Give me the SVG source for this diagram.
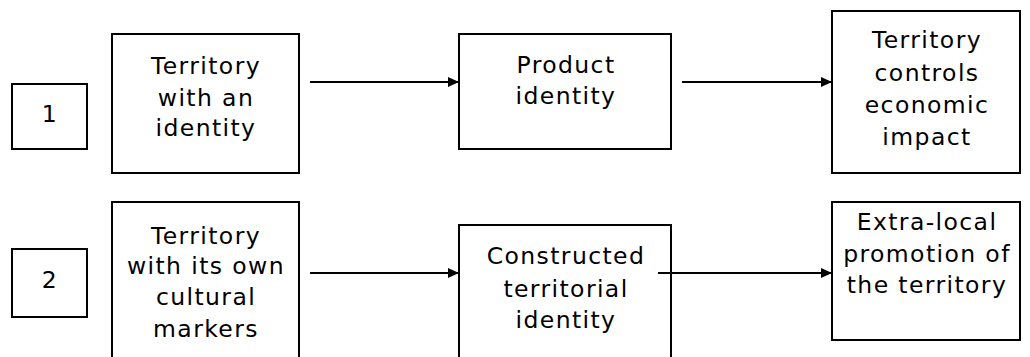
<svg xmlns="http://www.w3.org/2000/svg" width="1030" height="357" viewBox="0 0 1030 357">
<style>
.box{fill:#fff;stroke:#000;stroke-width:2}
.t{font-family:"DejaVu Sans","Verdana",sans-serif;font-size:23.5px;letter-spacing:1.4px;fill:#000;text-anchor:middle}
.c{stroke:#000;stroke-width:2;fill:none;marker-end:url(#ah)}
</style>
<defs>
<marker id="ah" markerWidth="11" markerHeight="10" refX="11" refY="5" orient="auto" markerUnits="userSpaceOnUse">
<path d="M0,0 L11,5 L0,10 Z" fill="#000"/>
</marker>
</defs>
<rect width="1030" height="357" fill="#fff"/>
<g id="n1">
<rect class="box" x="12" y="84" width="75" height="65"/>
<text class="t" x="50" y="122">1</text>
</g>
<g id="a1">
<rect class="box" x="112" y="34" width="187" height="139"/>
<text class="t" x="206" y="74">Territory</text>
<text class="t" x="206" y="106">with an</text>
<text class="t" x="206" y="136">identity</text>
</g>
<g id="b1">
<rect class="box" x="459" y="34" width="212" height="115"/>
<text class="t" x="566" y="73">Product</text>
<text class="t" x="566" y="104">identity</text>
</g>
<g id="c1">
<rect class="box" x="832" y="11" width="188" height="162"/>
<text class="t" x="927" y="48">Territory</text>
<text class="t" x="927" y="81">controls</text>
<text class="t" x="927" y="113">economic</text>
<text class="t" x="927" y="145">impact</text>
</g>
<g id="n2">
<rect class="box" x="12" y="249" width="75" height="68"/>
<text class="t" x="50" y="288">2</text>
</g>
<g id="a2">
<rect class="box" x="112" y="202" width="187" height="165"/>
<text class="t" x="206" y="244">Territory</text>
<text class="t" x="206" y="274">with its own</text>
<text class="t" x="206" y="305">cultural</text>
<text class="t" x="206" y="337">markers</text>
</g>
<g id="b2">
<rect class="box" x="459" y="225" width="212" height="142"/>
<text class="t" x="566" y="264">Constructed</text>
<text class="t" x="566" y="297">territorial</text>
<text class="t" x="566" y="328">identity</text>
</g>
<g id="c2">
<rect class="box" x="832" y="202" width="188" height="138"/>
<text class="t" x="927" y="230">Extra-local</text>
<text class="t" x="927" y="262">promotion of</text>
<text class="t" x="927" y="293">the territory</text>
</g>
<g id="connectors">
<line class="c" x1="310" y1="82" x2="459" y2="82"/>
<line class="c" x1="682" y1="82" x2="832" y2="82"/>
<line class="c" x1="310" y1="273" x2="459" y2="273"/>
<line class="c" x1="658" y1="273" x2="832" y2="273"/>
</g>
</svg>
